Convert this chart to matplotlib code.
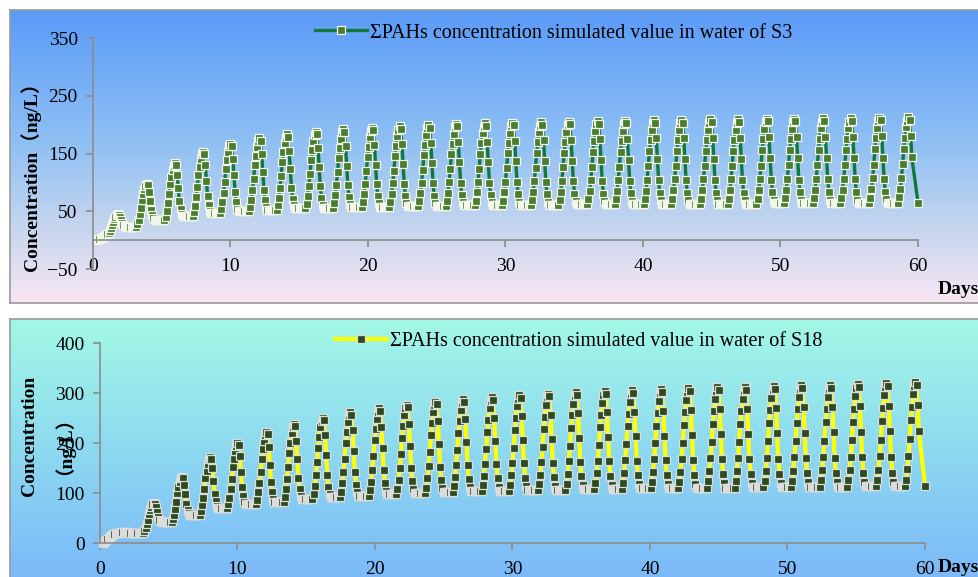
import numpy as np
import matplotlib.pyplot as plt
from matplotlib.colors import LinearSegmentedColormap
from matplotlib.lines import Line2D

# day of each concentration peak
peak_days = [1.8, 3.9, 5.95, 8.0, 10.0, 12.1, 14.1, 16.2, 18.2, 20.3,
             22.3, 24.4, 26.4, 28.5, 30.5, 32.6, 34.6, 36.7, 38.7, 40.8,
             42.8, 44.9, 46.9, 49.0, 51.0, 53.1, 55.1, 57.2, 59.3]

# S3: peak and trough after each peak (ng/L)
s3_peaks = [45, 97, 133, 153, 167, 176, 183, 188, 192, 195,
            197, 199, 201, 202, 203, 204, 205, 206, 207, 208,
            208, 209, 209, 210, 210, 211, 211, 212, 213]
s3_troughs = [23, 35, 42, 47, 50, 53, 55, 56, 57, 58,
              59, 59, 60, 60, 61, 61, 62, 62, 62, 63,
              63, 63, 63, 64, 64, 64, 64, 65, 65]
s3_start = (0.3, 0, 10)     # first day, first value, value before first rise

# S18
s18_peaks = [22, 80, 133, 172, 200, 222, 238, 251, 262, 270,
             277, 283, 288, 292, 296, 299, 302, 304, 306, 308,
             310, 312, 313, 315, 316, 317, 318, 320, 322]
s18_troughs = [20, 42, 57, 70, 78, 83, 88, 92, 95, 98,
               100, 102, 104, 105, 106, 107, 108, 109, 110, 110,
               111, 111, 112, 112, 113, 113, 114, 114, 115]
s18_start = (0.2, 0, 19)

# 2-hourly shape of one release pulse, as fraction of the pulse height
rise_shape = [0.0, 0.06, 0.16, 0.29, 0.45, 0.63, 0.76, 0.88, 0.96, 1.0]
fall_shape = [1.0, 0.97, 0.78, 0.53, 0.28, 0.13, 0.04, 0.0]
end_day = 60.0

STEP = 1 / 12


def build_series(start, peaks, troughs):
    t, v = [], []
    day, level0, level1 = start
    for i, pk in enumerate(peaks):
        rise_start = peak_days[i] - (len(rise_shape) - 1) * STEP
        n = max(int(round((rise_start - day) / STEP)), 1)
        for k in range(n):
            t.append(day + k * (rise_start - day) / n)
            v.append(level0 + (level1 - level0) * k / n)
        base = level1
        for k, f in enumerate(rise_shape):
            t.append(rise_start + k * STEP)
            v.append(base + f * (pk - base))
        last = i == len(peaks) - 1
        shape = fall_shape[1:4] if last else fall_shape[1:]
        for k, f in enumerate(shape):
            t.append(peak_days[i] + (k + 1) * STEP)
            v.append(troughs[i] + f * (pk - troughs[i]))
        day = peak_days[i] + (len(shape) + 1) * STEP
        level0 = level1 = troughs[i]
    t.append(end_day)
    v.append(troughs[-1])
    return t, v


s3_t, s3_v = build_series(s3_start, s3_peaks, s3_troughs)
s18_t, s18_v = build_series(s18_start, s18_peaks, s18_troughs)

plt.rcParams['font.family'] = ['Liberation Serif', 'Noto Sans CJK SC']

W, H = 979, 577
fig = plt.figure(figsize=(W / 100, H / 100), dpi=100)


def px(x0, y0, x1, y1):
    # pixel box (top-left origin) -> figure fraction rect
    return [x0 / W, 1 - y1 / H, (x1 - x0) / W, (y1 - y0) / H]


def panel_background(rect, colors):
    bg = fig.add_axes(rect, zorder=0)
    cmap = LinearSegmentedColormap.from_list('bg', colors)
    grad = np.linspace(0, 1, 256).reshape(-1, 1)
    bg.imshow(grad, aspect='auto', cmap=cmap, extent=[0, 1, 0, 1], origin='upper')
    bg.set_xticks([])
    bg.set_yticks([])
    for s in bg.spines.values():
        s.set_color('#9a9a9a')
        s.set_linewidth(1.2)


panel_background(px(10, 10, 990, 303),
                 [(0.0, '#5b9bf8'), (0.45, '#8fc0f4'), (0.78, '#cdd8ee'), (1.0, '#f9e6f5')])
panel_background(px(10, 319, 990, 590),
                 [(0.0, '#a2f8e6'), (0.5, '#8cd8f0'), (1.0, '#7ab6fa')])


def style_axes(ax, xlim, ylim, yticks):
    ax.patch.set_alpha(0)
    ax.set_xlim(*xlim)
    ax.set_ylim(*ylim)
    ax.set_xticks(range(0, 61, 10))
    ax.set_yticks(yticks)
    ax.spines['top'].set_visible(False)
    ax.spines['right'].set_visible(False)
    ax.spines['bottom'].set_position(('data', 0))
    for s in ('left', 'bottom'):
        ax.spines[s].set_color('#8c8c8c')
        ax.spines[s].set_linewidth(1.2)
    ax.tick_params(axis='both', colors='#8c8c8c', labelcolor='black',
                   labelsize=14, length=5, width=1.2)
    ax.tick_params(axis='x', pad=8)
    ax.tick_params(axis='y', pad=6)


# top panel: S3
s3_style = dict(color='#107838', lw=2.4, marker='s', ms=6.3,
                mfc='#4a7d2e', mec='#f2f6ec', mew=0.9)
ax1 = fig.add_axes(px(93, 38, 918, 269), zorder=2)
style_axes(ax1, (0, 60), (-50, 350), range(-50, 351, 100))
ax1.plot(s3_t, s3_v, clip_on=False, **s3_style)
fig.text(938 / W, 1 - 289 / H, 'Days', fontsize=14, fontweight='bold',
         ha='left', va='center')
fig.text(31 / W, 1 - 172 / H, 'Concentration（ng/L）', rotation=90, fontsize=14,
         fontweight='bold', ha='center', va='center')
fig.legend([Line2D([], [], **s3_style)],
           ['ΣPAHs concentration simulated value in water of S3'],
           loc='center left', bbox_to_anchor=(315 / W, 1 - 33 / H),
           frameon=False, fontsize=14.5, handlelength=2.6, handletextpad=0.15,
           borderpad=0, borderaxespad=0)

# bottom panel: S18
s18_style = dict(color='#ffff00', lw=3, marker='s', ms=6.3,
                 mfc='#2d4b1e', mec='#dcdcdc', mew=0.9)
ax2 = fig.add_axes(px(100, 343, 925, 543), zorder=2)
style_axes(ax2, (0, 60), (0, 400), range(0, 401, 100))
ax2.plot(s18_t, s18_v, clip_on=False, **s18_style)
fig.text(938 / W, 1 - 567 / H, 'Days', fontsize=14, fontweight='bold',
         ha='left', va='center')
fig.text(30 / W, 1 - 436 / H, 'Concentration', rotation=90, fontsize=14,
         fontweight='bold', ha='center', va='center')
fig.text(54 / W, 1 - 436 / H, '（ng/L）', rotation=90, fontsize=14,
         fontweight='bold', ha='center', va='center')
fig.legend([Line2D([], [], **s18_style)],
           ['ΣPAHs concentration simulated value in water of S18'],
           loc='center left', bbox_to_anchor=(335 / W, 1 - 341 / H),
           frameon=False, fontsize=14.5, handlelength=2.6, handletextpad=0.15,
           borderpad=0, borderaxespad=0)

fig.savefig('out.png', dpi=100)
